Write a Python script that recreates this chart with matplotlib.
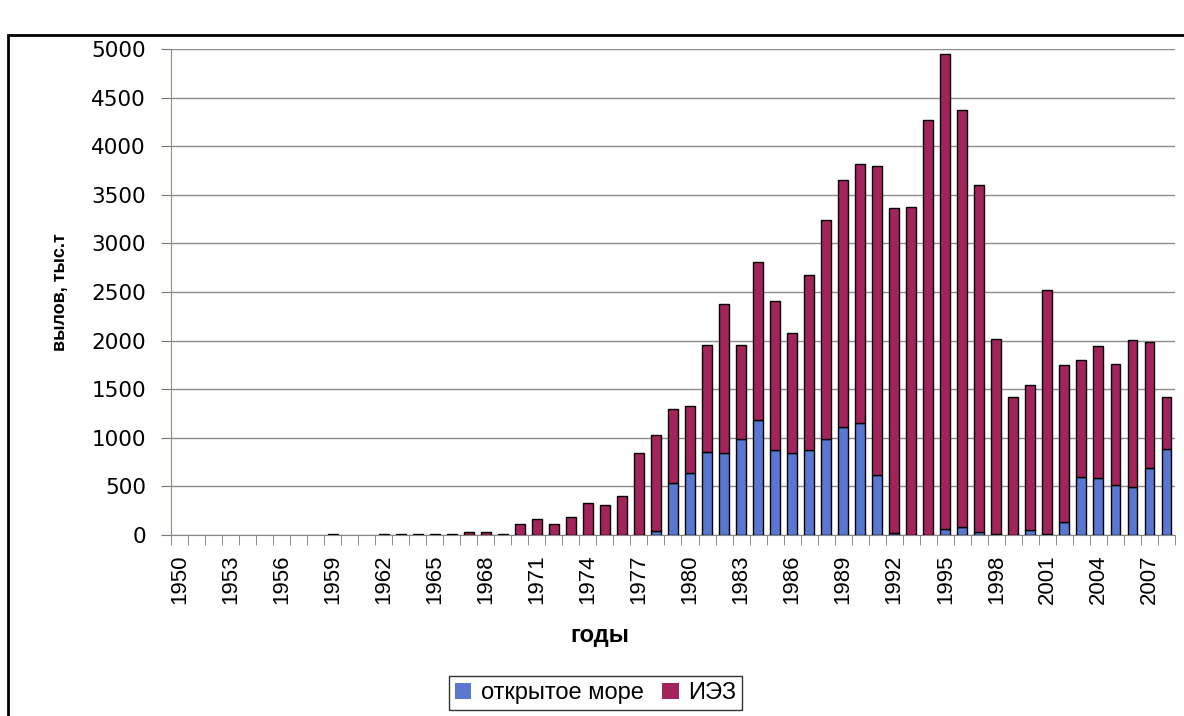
import matplotlib.pyplot as plt
from matplotlib.patches import Rectangle
from matplotlib.ticker import FixedLocator

plt.rcParams['font.family'] = ['Liberation Sans', 'DejaVu Sans']

years = list(range(1950, 2009))

# открытое море (open sea), thousand tonnes
open_sea = [0, 0, 0, 0, 0, 0, 0, 0, 0, 0,
            0, 0, 0, 0, 0, 0, 0, 0, 0, 0,
            0, 0, 0, 0, 0, 0, 0, 0, 45, 540,
            635, 855, 840, 990, 1185, 870, 840, 870, 990, 1115,
            1150, 620, 20, 0, 0, 60, 85, 35, 10, 0,
            55, 10, 135, 600, 590, 515, 490, 685, 880]

# ИЭЗ (EEZ), thousand tonnes
eez = [0, 0, 0, 0, 0, 0, 0, 0, 0, 15,
       0, 0, 10, 10, 10, 10, 10, 30, 30, 15,
       110, 160, 110, 180, 325, 305, 400, 840, 980, 760,
       690, 1100, 1540, 965, 1625, 1540, 1240, 1805, 2250, 2535,
       2670, 3180, 3340, 3370, 4265, 4890, 4285, 3565, 2005, 1420,
       1490, 2515, 1610, 1200, 1350, 1240, 1515, 1300, 540]

blue = '#5a78d2'
red = '#a2245a'

fig = plt.figure(figsize=(11.84, 7.16), dpi=100)
ax = fig.add_axes([0.1444, 0.2528, 0.9924 - 0.1444, 0.9316 - 0.2528])

x = list(range(len(years)))
ax.bar(x, open_sea, width=0.58, color=blue,
       edgecolor=['black' if v > 0 else 'none' for v in open_sea],
       linewidth=1, label='открытое море', zorder=3)
ax.bar(x, eez, width=0.58, bottom=open_sea, color=red,
       edgecolor=['black' if v > 0 else 'none' for v in eez],
       linewidth=1, label='ИЭЗ', zorder=3)

ax.set_xlim(-0.5, len(years) - 0.5)
ax.set_ylim(0, 5000)
ax.set_yticks(range(0, 5001, 500))
ax.yaxis.grid(True, color='#8c8c8c', linewidth=1)
ax.set_axisbelow(True)

lab_pos = [i for i, y in enumerate(years) if (y - 1950) % 3 == 0]
ax.set_xticks(lab_pos)
ax.set_xticklabels([str(years[i]) for i in lab_pos], rotation=90, fontsize=16)
ax.xaxis.set_minor_locator(FixedLocator([i - 0.5 for i in range(len(years) + 1)]))
ax.tick_params(axis='x', which='major', length=0, pad=14)
ax.tick_params(axis='x', which='minor', length=7, color='#777777')
ax.tick_params(axis='y', length=7, color='#777777', pad=11)
for t in ax.get_yticklabels():
    t.set_family('DejaVu Sans')
    t.set_fontsize(15.5)

for s in ['top', 'right']:
    ax.spines[s].set_visible(False)
ax.spines['left'].set_color('#9a8a7a')
ax.spines['bottom'].set_color('#888888')

ax.set_ylabel('вылов, тыс.т', fontsize=13, fontweight='bold', labelpad=16)
fig.text(0.507, 0.112, 'годы', fontsize=17, fontweight='bold', ha='center', va='center')

leg = fig.legend(loc='center', bbox_to_anchor=(0.503, 0.032), ncol=2, fontsize=17,
                 frameon=True, fancybox=False, edgecolor='black', handlelength=0.7,
                 handleheight=0.7, handletextpad=0.4, columnspacing=0.8,
                 borderpad=0.25)
leg.get_frame().set_linewidth(1)

# outer frame of the chart
fig.patches.append(Rectangle((8 / 1184, -0.01), 1.0, (716 - 35) / 716 + 0.01,
                             transform=fig.transFigure, fill=False,
                             edgecolor='black', linewidth=2))

fig.savefig('out.png', dpi=100)
